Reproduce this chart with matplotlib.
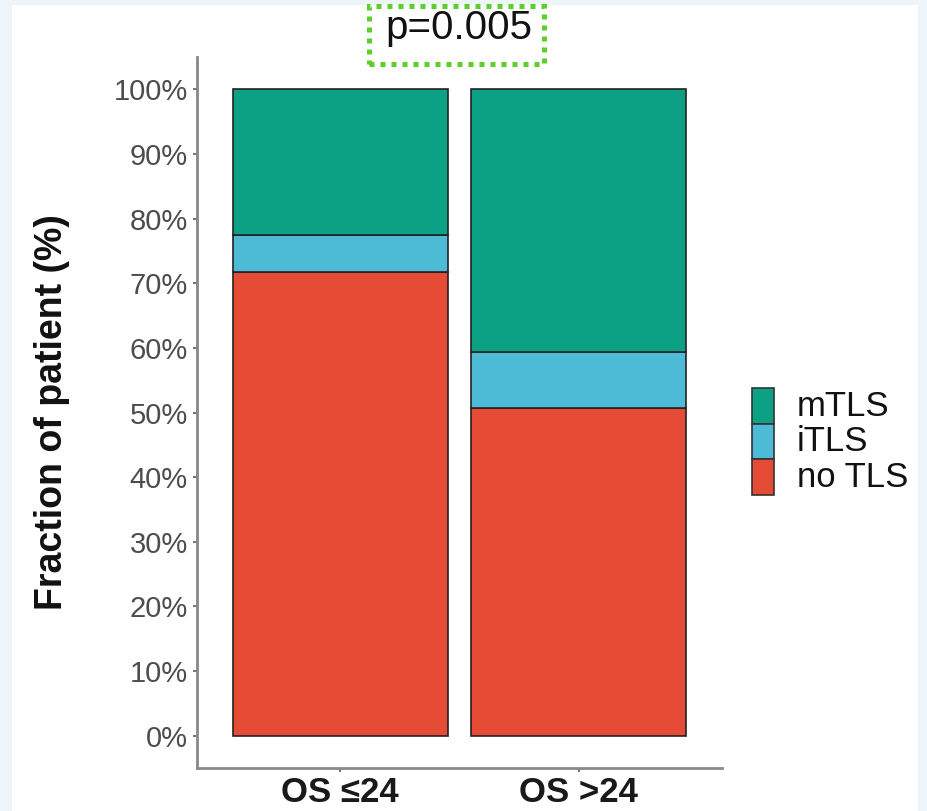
import matplotlib
matplotlib.use("Agg")
import matplotlib.pyplot as plt
from matplotlib.patches import Rectangle
import numpy as np

plt.rcParams['font.family'] = ['Liberation Sans', 'DejaVu Sans']

groups = ['OS \u226424', 'OS >24']
layers = ['no TLS', 'iTLS', 'mTLS']
no_tls = [71.7, 50.7]
itls = [5.7, 8.7]
mtls = [22.6, 40.6]
colors = {'no TLS': '#E64B35', 'iTLS': '#4DBBD5', 'mTLS': '#0CA085'}
yticks = np.arange(0, 101, 10)

W, H = 928, 811
fig = plt.figure(figsize=(W / 100, H / 100), dpi=100)
fig.patch.set_facecolor('#EDF5FB')
# white card behind the plot
fig.patches.append(Rectangle((12 / W, 0), (918 - 12) / W, 1 - 5 / H,
                             transform=fig.transFigure, facecolor='white',
                             edgecolor='none', zorder=-5))

ax = fig.add_axes([197 / W, 43 / H, (722 - 197) / W, (768 - 57) / H])
ax.set_facecolor('none')
ax.set_zorder(2)

x = np.arange(1, len(groups) + 1)
bottom = np.zeros(len(groups))
for name, vals in zip(layers, [no_tls, itls, mtls]):
    ax.bar(x, vals, width=0.9, bottom=bottom, color=colors[name],
           edgecolor='#222222', linewidth=1.2, zorder=2)
    bottom += np.array(vals)

ax.set_xlim(0.4, 2.6)
ax.set_ylim(-5, 105)
ax.set_yticks(yticks)
ax.set_yticklabels([f'{v}%' for v in yticks])
ax.set_xticks(x)
ax.set_xticklabels(groups, fontsize=25, fontweight='bold', color='#1a1a1a')
ax.tick_params(axis='y', labelsize=21, labelcolor='#4D4D4D', length=3,
               width=1.5, color='#777777', pad=3.5)
ax.tick_params(axis='x', length=3, width=1.5, color='#777777', pad=3)
for side in ['top', 'right']:
    ax.spines[side].set_visible(False)
for side in ['left', 'bottom']:
    ax.spines[side].set_color('#888888')
    ax.spines[side].set_linewidth(2)

ax.set_ylabel('Fraction of patient (%)', fontsize=27, fontweight='bold',
              color='#111111')
ax.yaxis.set_label_coords(-(197 - 70) / (722 - 197), 0.5)

# p-value with dotted green frame
fig.text(459 / W, 1 - 28 / H, 'p=0.005', fontsize=29, ha='center',
         va='center', color='#111111', zorder=5)
fig.patches.append(Rectangle((369 / W, 1 - 64 / H), (544 - 369) / W,
                             (64 - 6) / H, transform=fig.transFigure,
                             facecolor='none', edgecolor='#5CD02A',
                             linewidth=3.6, linestyle=(0, (1, 1.2)),
                             zorder=6))

# legend keys stacked without gaps
key_top = 388
for i, name in enumerate(['mTLS', 'iTLS', 'no TLS']):
    y0 = key_top + i * 35.7
    fig.patches.append(Rectangle((752 / W, 1 - (y0 + 35.7) / H), 22 / W,
                                 35.7 / H, transform=fig.transFigure,
                                 facecolor=colors[name], edgecolor='#333333',
                                 linewidth=1.2, zorder=3))
    fig.text(797 / W, 1 - (y0 + 18) / H, name, fontsize=25, ha='left',
             va='center', color='#111111')

fig.savefig('out.png', dpi=100, facecolor=fig.get_facecolor())
